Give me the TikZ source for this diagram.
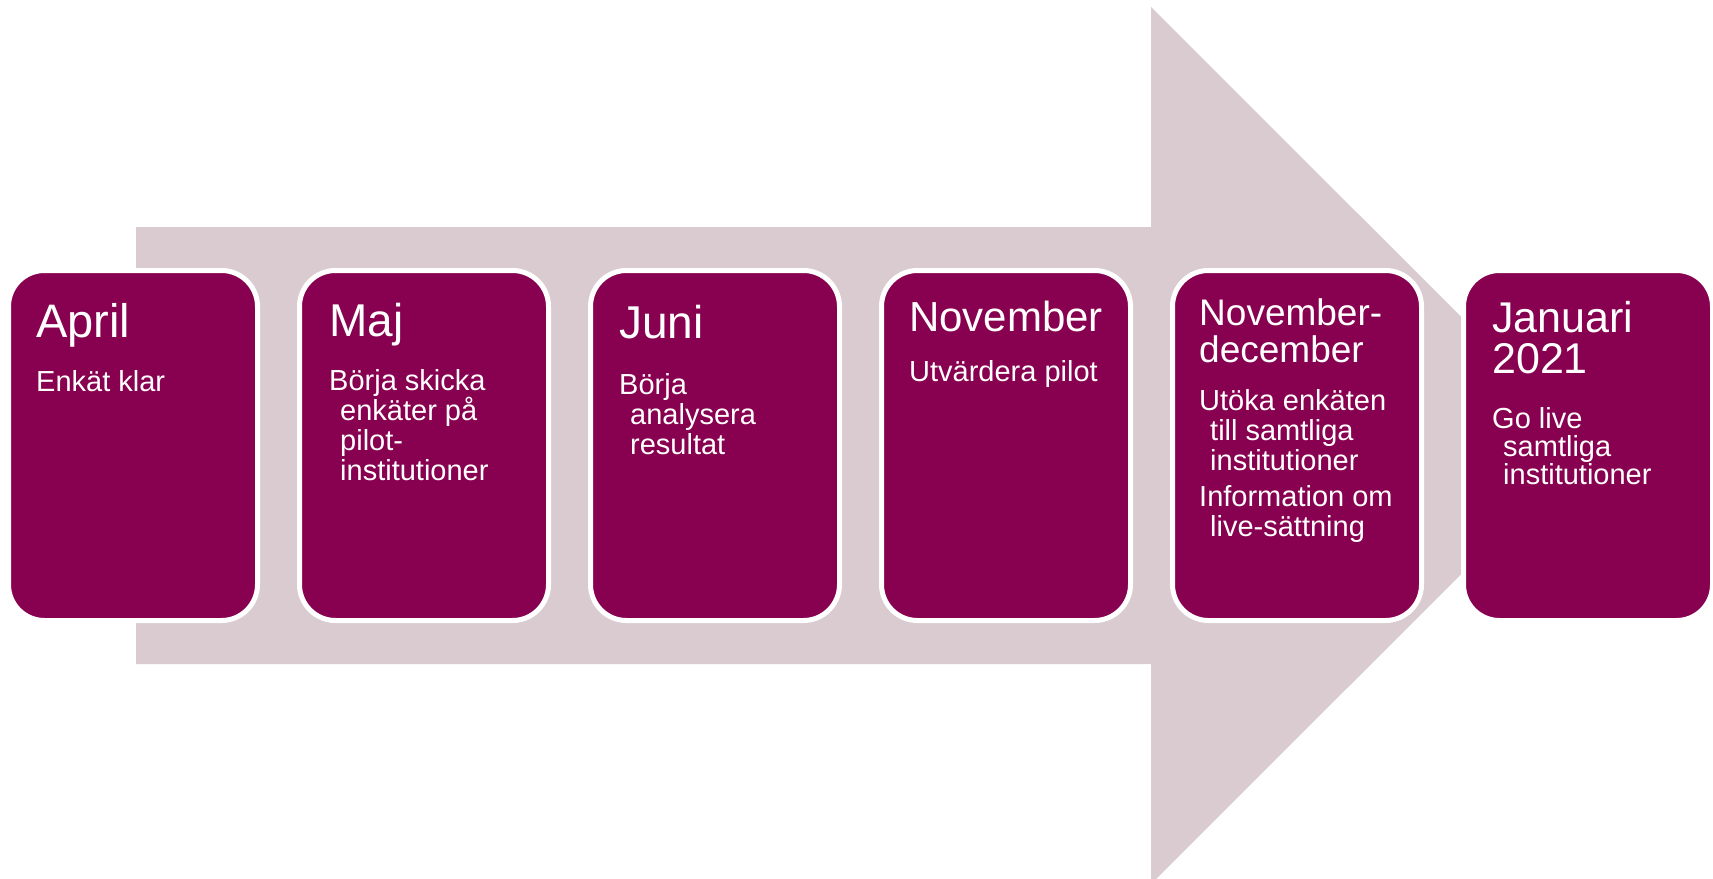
\documentclass[tikz,border=0pt]{standalone}
\usepackage{fontspec}
\setmainfont{Liberation Sans}
\definecolor{plum}{HTML}{880050}
\definecolor{shaft}{HTML}{D9CBD0}
% lines stacked from the first baseline down
\newcommand{\tasklines}[1]{\vtop{\halign{##\hfil\cr#1\crcr}}}

\begin{document}
\begin{tikzpicture}[x=1pt,y=-1pt,
  box/.style={fill=plum, draw=white, line width=5pt, rounded corners=36pt,
    minimum width=249pt, minimum height=350pt, inner sep=0pt},
  month/.style={anchor=base west, inner sep=0pt, text=white},
  task/.style={anchor=base west, inner sep=0pt, text=white,
    font=\fontsize{29}{30}\selectfont}]
\useasboundingbox (0,0) rectangle (1713,878);
\clip (0,0) rectangle (1713,878);

% big arrow behind
\fill[shaft] (136,227) -- (1151,227) -- (1151,7) -- (1590,445.5) -- (1151,884) -- (1151,664) -- (136,664) -- cycle;

% boxes
\node (april) [box] at (133,445.5) {};
\node (maj) [box] at (424,445.5) {};
\node (juni) [box] at (715,445.5) {};
\node (nov) [box] at (1006,445.5) {};
\node (novdec) [box] at (1297,445.5) {};
\node (jan) [box] at (1588,445.5) {};

% texts
\node (aprilT) [month, font=\fontsize{47}{47}\selectfont] at (36,337) {April};
\node (aprilB) [task] at (36,391) {Enkät klar};

\node (majT) [month, font=\fontsize{46}{46}\selectfont] at (329,336) {Maj};
\node (majB) [task] at (329,390) {\tasklines{Börja skicka\cr\hspace*{11pt}enkäter på\cr\hspace*{11pt}pilot-\cr\hspace*{11pt}institutioner}};

\node (juniT) [month, font=\fontsize{46}{46}\selectfont] at (619,338) {Juni};
\node (juniB) [task] at (619,394) {\tasklines{Börja\cr\hspace*{11pt}analysera\cr\hspace*{11pt}resultat}};

\node (novT) [month, font=\fontsize{42}{42}\selectfont] at (909,331) {November};
\node (novB) [task] at (909,381) {Utvärdera pilot};

\node (novdecT) [month, font=\fontsize{37}{37}\selectfont] at (1199,325) {\tasklines{November-\cr december}};
\node (novdecB) [task] at (1199,410) {\tasklines{Utöka enkäten\cr\hspace*{11pt}till samtliga\cr\hspace*{11pt}institutioner\cr\noalign{\vskip6pt}Information om\cr\hspace*{11pt}live-sättning}};

\node (janT) [month, font=\fontsize{43}{41}\selectfont] at (1492,332) {\tasklines{Januari\cr 2021}};
\node (janB) [task, font=\fontsize{29}{28}\selectfont] at (1492,428) {\tasklines{Go live\cr\hspace*{11pt}samtliga\cr\hspace*{11pt}institutioner}};
\end{tikzpicture}
\end{document}
